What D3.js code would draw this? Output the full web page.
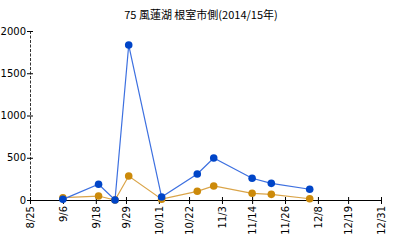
<!DOCTYPE html>
<html>
<head>
<meta charset="utf-8">
<script src="https://cdn.jsdelivr.net/npm/d3@7"></script>
<style>
  body { margin: 0; background: #fff; }
  svg text { font-family: "DejaVu Sans", "Noto Sans CJK JP", sans-serif; }
</style>
</head>
<body>
<div class="chart"></div>
<script>
// survey dates (2014)
const dates = ['2014-09-06', '2014-09-19', '2014-09-25', '2014-09-30', '2014-10-12',
    '2014-10-25', '2014-10-31', '2014-11-14', '2014-11-21', '2014-12-05'];
const blueValues = [8, 187, 0, 1834, 35, 308, 497, 257, 197, 127];
const orangeValues = [27, 47, 0, 284, 10, 103, 166, 79, 67, 15];
const xTickDates = ['2014-08-25', '2014-09-06', '2014-09-18', '2014-09-29', '2014-10-11',
    '2014-10-22', '2014-11-03', '2014-11-14', '2014-11-26', '2014-12-08', '2014-12-19', '2014-12-31'];
const xTickLabels = ['8/25', '9/6', '9/18', '9/29', '10/11', '10/22', '11/3', '11/14', '11/26', '12/8', '12/19', '12/31'];
const yTicks = [0, 500, 1000, 1500, 2000];
const title = '75 風蓮湖 根室市側(2014/15年)';

const parseDate = d3.timeParse('%Y-%m-%d');
const width = 400, height = 250;
const margin = { top: 31, right: 19, bottom: 50, left: 30 };

const svg = d3.select('.chart')
    .append('svg')
    .attr('width', width)
    .attr('height', height);

const x = d3.scaleTime()
    .domain([parseDate(xTickDates[0]), parseDate(xTickDates[xTickDates.length - 1])])
    .range([margin.left, width - margin.right]);
const y = d3.scaleLinear()
    .domain([0, 2000])
    .range([height - margin.bottom, margin.top]);

svg.append('text')
    .attr('x', 201)
    .attr('y', 19)
    .attr('text-anchor', 'middle')
    .style('font-size', '11px')
    .style('font-family', '"Noto Sans CJK JP", "DejaVu Sans", sans-serif')
    .text(title);

// y axis
const yAxis = svg.append('g')
    .attr('transform', `translate(${margin.left}, 0)`)
    .call(d3.axisLeft(y).tickValues(yTicks).tickFormat(d3.format('d'))
        .tickSize(3).tickSizeOuter(0).tickPadding(1));
yAxis.select('.domain').attr('stroke-dasharray', '3,1.5').attr('stroke', '#333');
yAxis.selectAll('.tick line').attr('x1', 3);
yAxis.selectAll('.tick text').style('font-size', '10px').attr('fill', '#000');

// x axis
const xAxis = svg.append('g')
    .attr('transform', `translate(0, ${height - margin.bottom})`)
    .call(d3.axisBottom(x)
        .tickValues(xTickDates.map(parseDate))
        .tickFormat((d, i) => xTickLabels[i])
        .tickSize(4).tickSizeOuter(0));
xAxis.selectAll('.tick line').attr('y1', -3);
xAxis.selectAll('.tick text')
    .style('font-size', '10px')
    .attr('fill', '#000')
    .attr('text-anchor', 'end')
    .attr('transform', 'rotate(-90)')
    .attr('x', -6)
    .attr('y', 0)
    .attr('dy', '0.35em');

const series = [
    { name: 'orange', values: orangeValues, line: '#daa448', dot: '#cc8a0a' },
    { name: 'blue', values: blueValues, line: '#3d70e0', dot: '#0045c8' }
];

const line = d3.line()
    .x(d => x(d.date))
    .y(d => y(d.value));

series.forEach(s => {
    const pts = dates.map((d, i) => ({ date: parseDate(d), value: s.values[i] }));
    svg.append('path')
        .datum(pts)
        .attr('d', line)
        .attr('fill', 'none')
        .attr('stroke', s.line)
        .attr('stroke-width', 1.2);
    svg.append('g')
        .selectAll('circle')
        .data(pts)
        .enter()
        .append('circle')
        .attr('cx', d => x(d.date))
        .attr('cy', d => y(d.value))
        .attr('r', 3.8)
        .attr('fill', s.dot);
});
</script>
</body>
</html>
